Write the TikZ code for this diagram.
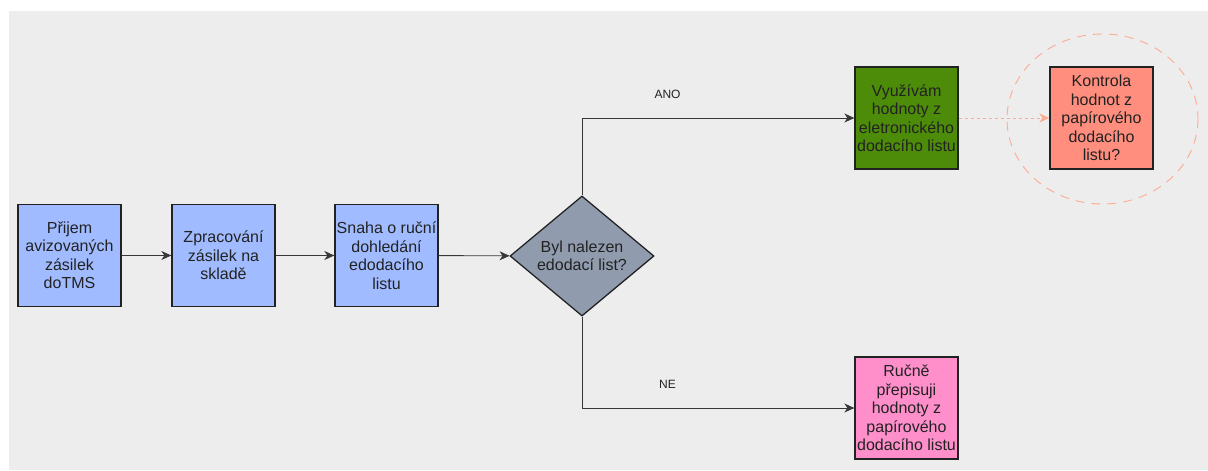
\documentclass[tikz,border=0pt]{standalone}
\usepackage{fontspec}
\setmainfont{Liberation Sans}
\usetikzlibrary{arrows.meta, shapes.geometric, positioning}
\definecolor{canvasgray}{HTML}{EDEDED}
\definecolor{stepblue}{HTML}{A0BBFF}
\definecolor{slategray}{HTML}{909CAE}
\definecolor{leafgreen}{HTML}{4D8C08}
\definecolor{salmonred}{HTML}{FF8E7E}
\definecolor{candypink}{HTML}{FF8FCB}
\definecolor{ringsalmon}{HTML}{FFAA92}
\definecolor{inkdark}{HTML}{222222}

\tikzset{
  stepbox/.style={draw=inkdark, line width=1.3pt, minimum width=103pt, minimum height=102pt,
    align=center, inner sep=0pt, font=\fontsize{16}{18.5}\selectfont, text=inkdark},
  askbox/.style={draw=inkdark, line width=1.3pt, diamond, fill=slategray, minimum width=144pt,
    minimum height=120pt, inner sep=0pt, align=center, font=\fontsize{16}{18.5}\selectfont, text=inkdark},
  flow/.style={draw=inkdark!90, line width=0.9pt, -{Stealth[length=10pt, width=9pt, inset=3pt]}},
  branch/.style={font=\fontsize{12}{14}\selectfont, text=inkdark, inner sep=0pt}
}

\begin{document}
\begin{tikzpicture}[x=1pt, y=-1pt]
  \useasboundingbox (0,0) rectangle (1208,471);
  % pozadí
  \fill[canvasgray] (9,11) rectangle (1208,470);

  % hlavní tok
  \node[stepbox, fill=stepblue] (prijem) at (69.5,255.5) {Přijem\\avizovaných\\zásilek\\doTMS};
  \node[stepbox, fill=stepblue] (zpracovani) at (223.5,255.5) {Zpracování\\zásilek na\\skladě};
  \node[stepbox, fill=stepblue] (snaha) at (386.5,255.5) {Snaha o ruční\\dohledání\\edodacího\\listu};
  \node[askbox] (nalezen) at (582,256) {Byl nalezen\\edodací list?};

  % větve
  \node[stepbox, fill=leafgreen] (elektro) at (906.5,118) {Využívám\\hodnoty z\\eletronického\\dodacího listu};
  \node[stepbox, fill=candypink] (rucne) at (906.5,408) {Ručně\\přepisuji\\hodnoty z\\papírového\\dodacího listu};
  \node[stepbox, fill=salmonred] (kontrola) at (1101.5,118) {Kontrola\\hodnot z\\papírového\\dodacího\\listu?};

  % kruh kolem kontroly
  \draw[ringsalmon, line width=0.9pt, dash pattern=on 9pt off 7pt] (1102.5,119) ellipse (95.5 and 85);

  % spojnice
  \draw[flow] (prijem) -- (zpracovani);
  \draw[flow] (zpracovani) -- (snaha);
  \draw[flow] (snaha) -- (nalezen);
  \draw[flow] (nalezen.north) |- (elektro.west) node[branch, pos=0.657, above=19pt] {ANO};
  \draw[flow] (nalezen.south) |- (rucne.west) node[branch, pos=0.657, above=19pt] {NE};
  \draw[ringsalmon, line width=1pt, dash pattern=on 3pt off 3pt, -{Stealth[length=10pt, width=9pt, inset=3pt]}] (elektro) -- (kontrola);
\end{tikzpicture}
\end{document}
